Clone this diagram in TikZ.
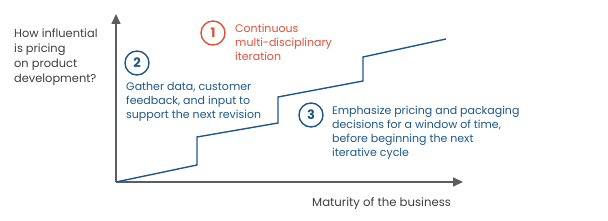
\documentclass[tikz,border=0pt]{standalone}
\usepackage{fontspec}
\setmainfont{Poppins}
\usetikzlibrary{positioning,arrows.meta}
\definecolor{StepBlue}{RGB}{30,88,136}
\definecolor{IterRed}{RGB}{222,80,58}
\definecolor{AxisGray}{RGB}{92,93,96}
\definecolor{LabelGray}{RGB}{62,62,64}

\begin{document}
\begin{tikzpicture}[x=1pt, y=-1pt,
  every node/.style={inner sep=0pt, align=left},
  axis/.style={AxisGray, line width=1.6pt, -{Triangle[length=10pt, width=9pt]}},
  stepline/.style={StepBlue, line width=1.4pt},
  badge/.style={circle, draw, line width=1.4pt, minimum size=24pt, font=\fontsize{13}{13}\selectfont\bfseries},
  note/.style={anchor=base west, font=\fontsize{11}{14.3}\selectfont}]
  \useasboundingbox (0,0) rectangle (608,221);

  % axes
  \coordinate (o) at (116,182);
  \coordinate (ytop) at (116,14);
  \coordinate (xend) at (463,182);
  \draw[axis] (o) -- (ytop);
  \draw[axis] (o) -- (xend);
  % base of a multi-line note = its last line
  \node[note, LabelGray, font=\fontsize{11.4}{15}\selectfont] (question) at (14,83)
    {How influential\\is pricing\\on product\\development?};
  \node[note, LabelGray, font=\fontsize{11.7}{15}\selectfont] (maturity) at (312,207)
    {Maturity of the business};

  % staircase
  \draw[stepline] (o) -- (197,165) -- (197,137) -- (278,123) -- (278,97)
    -- (363,81) -- (363,57) -- (446,39);

  % numbered notes
  \node[badge, IterRed] (c1) at (213,33) {1};
  \node[note, IterRed] (t1) at (235,61) {Continuous\\multi-disciplinary\\iteration};
  \node[badge, StepBlue] (c2) at (137,63) {2};
  \node[note, StepBlue] (t2) at (126,119) {Gather data, customer\\feedback, and input to\\support the next revision};
  \node[badge, StepBlue] (c3) at (311,115) {3};
  \node[note, StepBlue] (t3) at (332,157) {Emphasize pricing and packaging\\decisions for a window of time,\\before beginning the next\\iterative cycle};
\end{tikzpicture}
\end{document}
